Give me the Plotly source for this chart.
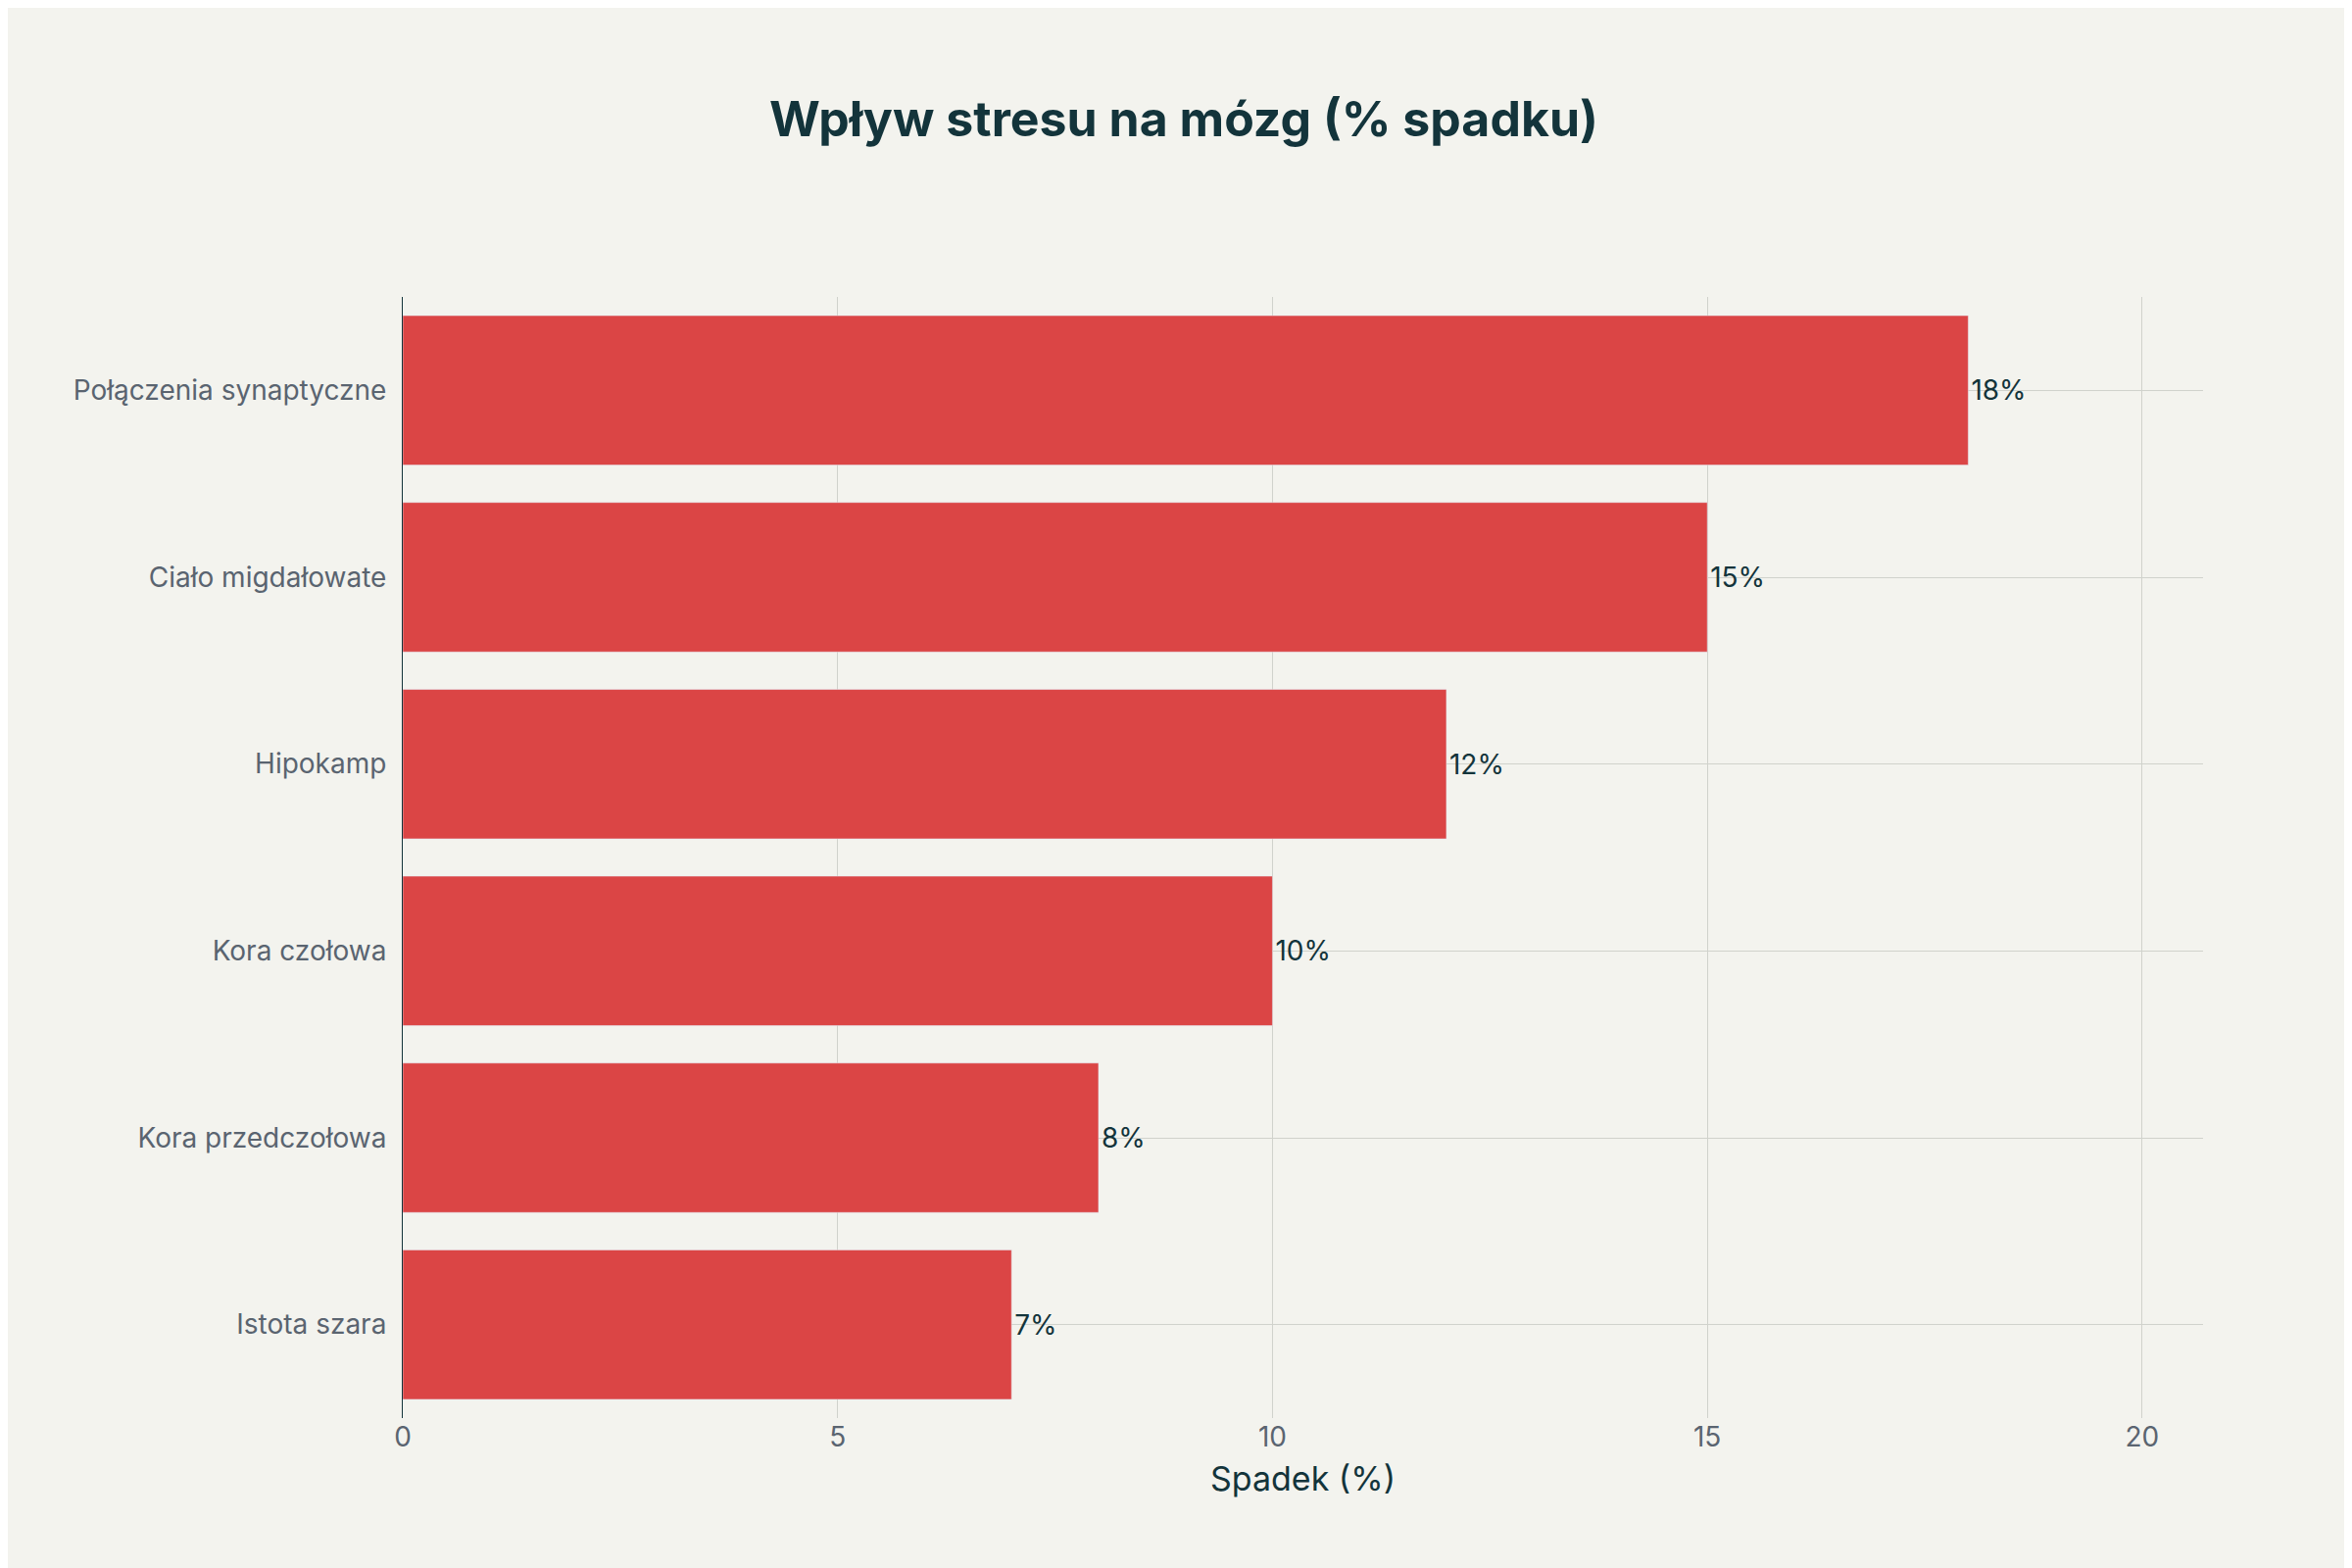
import plotly.graph_objects as go

regions = ["Istota szara", "Kora przedczołowa", "Kora czołowa", "Hipokamp",
           "Ciało migdałowate", "Połączenia synaptyczne"]
decline = [7, 8, 10, 12, 15, 18]
labels = [f"{v}%" for v in decline]

fig = go.Figure(go.Bar(
    x=decline, y=regions, orientation="h",
    marker_color="#DB4545", text=labels, textposition="outside",
    textfont=dict(size=28, color="#13343B"), cliponaxis=False, width=0.8,
))
fig.update_layout(
    width=2400, height=1600,
    paper_bgcolor="#F3F3EE", plot_bgcolor="#F3F3EE",
    font=dict(family="Inter", color="#5A6470", size=28),
    title=dict(text="<b>Wpływ stresu na mózg (% spadku)</b>", x=0.5, y=0.94,
               font=dict(size=50, color="#13343B")),
    margin=dict(l=403, r=160, t=295, b=161),
    showlegend=False,
)
fig.update_xaxes(range=[0, 20.7], dtick=5, showgrid=True, gridcolor="#D0D2CC",
                 zeroline=False, title=dict(text="Spadek (%)", font=dict(size=34, color="#13343B")),
                 tickfont=dict(size=28))
fig.update_yaxes(showgrid=True, gridcolor="#D0D2CC", showline=True, linecolor="#13343B",
                 ticks="", ticklabelstandoff=10)
fig.write_html("out.html")
